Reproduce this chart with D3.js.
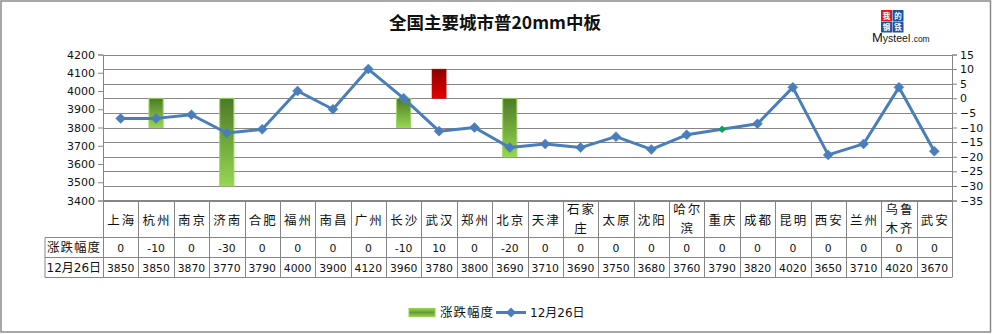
<!DOCTYPE html>
<html>
<head>
<meta charset="utf-8">
<script src="https://cdn.jsdelivr.net/npm/d3@7"></script>
<style>
  html, body { margin: 0; padding: 0; background: #fff; }
  svg { display: block; }
</style>
</head>
<body>
<svg id="chart" width="992" height="334"></svg>
<script>
// City list (x categories)
const cities = ["上海","杭州","南京","济南","合肥","福州","南昌","广州","长沙","武汉","郑州","北京",
                "天津","石家庄","太原","沈阳","哈尔滨","重庆","成都","昆明","西安","兰州","乌鲁木齐","武安"];
// Daily change (right axis, bars)
const changes = [0,-10,0,-30,0,0,0,0,-10,10,0,-20,0,0,0,0,0,0,0,0,0,0,0,0];
// Price on 12月26日 (left axis, line)
const prices = [3850,3850,3870,3770,3790,4000,3900,4120,3960,3780,3800,3690,
                3710,3690,3750,3680,3760,3790,3820,4020,3650,3710,4020,3670];
// Axis ticks
const leftTicks = [3400,3500,3600,3700,3800,3900,4000,4100,4200];
const rightTicks = [-35,-30,-25,-20,-15,-10,-5,0,5,10,15];
const changeName = "涨跌幅度";
const priceName = "12月26日";
const title = "全国主要城市普20mm中板";
// City whose marker is highlighted
const highlightCity = "重庆";

const svg = d3.select("#chart");
const numFont = "'DejaVu Sans', 'Noto Sans CJK SC', sans-serif";
const cjkFont = "'Noto Sans CJK SC', 'DejaVu Sans', sans-serif";
const gridColor = "#868686";

const plot = { left: 103, right: 952, top: 54.5, bottom: 200.5 };
const rows = { cat: 200.5, chg: 237.5, price: 257.5, end: 277.5, headLeft: 45 };

const x = d3.scaleBand().domain(cities).range([plot.left, plot.right]).padding(0);
const yL = d3.scaleLinear().domain([3400, 4200]).range([plot.bottom, plot.top]);
const yR = d3.scaleLinear().domain([-35, 15]).range([plot.bottom, plot.top]);

// Gradients for the change bars
const defs = svg.append("defs");
const gGreen = defs.append("linearGradient").attr("id", "gGreen")
  .attr("x1", 0).attr("y1", 0).attr("x2", 0).attr("y2", 1);
gGreen.append("stop").attr("offset", "0%").attr("stop-color", "#4d7a26");
gGreen.append("stop").attr("offset", "100%").attr("stop-color", "#96d651");
const gRed = defs.append("linearGradient").attr("id", "gRed")
  .attr("x1", 0).attr("y1", 0).attr("x2", 0).attr("y2", 1);
gRed.append("stop").attr("offset", "0%").attr("stop-color", "#8c0000");
gRed.append("stop").attr("offset", "100%").attr("stop-color", "#e60000");
const gLeg = defs.append("linearGradient").attr("id", "gLeg")
  .attr("x1", 0).attr("y1", 0).attr("x2", 0).attr("y2", 1);
gLeg.append("stop").attr("offset", "0%").attr("stop-color", "#92d050");
gLeg.append("stop").attr("offset", "50%").attr("stop-color", "#6a9a38");
gLeg.append("stop").attr("offset", "100%").attr("stop-color", "#92d050");

// Outer frame
svg.append("rect").attr("x", 1).attr("y", 1).attr("width", 989.5).attr("height", 331)
  .attr("fill", "#fff").attr("stroke", "#8a8a8a").attr("stroke-width", 1.5);

// Title
svg.append("text").attr("x", 495).attr("y", 29).attr("text-anchor", "middle")
  .attr("font-family", cjkFont).attr("font-size", 17.5).attr("font-weight", "bold")
  .attr("fill", "#111").text(title);

// Logo: four character tiles above the brand name
const logo = svg.append("g").attr("transform", "translate(881,10)");
const logoCells = [
  { ch: "我", cx: 0, cy: 0, bg: "#e8141b" },
  { ch: "的", cx: 11.5, cy: 0, bg: "#1f4fa0" },
  { ch: "钢", cx: 0, cy: 11.5, bg: "#1f4fa0" },
  { ch: "铁", cx: 11.5, cy: 11.5, bg: "#1f4fa0" }
];
logoCells.forEach(c => {
  logo.append("rect").attr("x", c.cx).attr("y", c.cy).attr("width", 11).attr("height", 11).attr("fill", c.bg);
  logo.append("text").attr("x", c.cx + 5.5).attr("y", c.cy + 8.8).attr("text-anchor", "middle")
    .attr("font-family", cjkFont).attr("font-size", 7.5).attr("font-weight", "bold")
    .attr("fill", "#fff").text(c.ch);
});
const brand = svg.append("text").attr("x", 872).attr("y", 42).attr("font-family", "'Liberation Sans', Arial, sans-serif").attr("fill", "#111");
brand.append("tspan").attr("font-size", 13).text("M");
brand.append("tspan").attr("font-size", 10.5).text("ysteel");
brand.append("tspan").attr("font-size", 8.5).attr("dx", 1).text(".com");

// Horizontal gridlines on the right-axis ticks
svg.append("g").selectAll("line").data(rightTicks).join("line")
  .attr("x1", plot.left).attr("x2", plot.right)
  .attr("y1", d => Math.round(yR(d)) + 0.5).attr("y2", d => Math.round(yR(d)) + 0.5)
  .attr("stroke", gridColor).attr("stroke-width", 1);

// Left axis
const axL = svg.append("g").attr("transform", `translate(${plot.left},0)`)
  .call(d3.axisLeft(yL).tickValues(leftTicks).tickSize(5).tickPadding(3).tickFormat(d3.format("d")));
axL.select(".domain").attr("stroke", gridColor);
axL.selectAll(".tick line").attr("stroke", gridColor);
axL.selectAll("text").attr("font-family", numFont).attr("font-size", 11).attr("fill", "#111");

// Right axis
const axR = svg.append("g").attr("transform", `translate(${plot.right},0)`)
  .call(d3.axisRight(yR).tickValues(rightTicks).tickSize(5).tickPadding(3).tickFormat(d3.format("d")));
axR.select(".domain").attr("stroke", gridColor);
axR.selectAll(".tick line").attr("stroke", gridColor);
axR.selectAll("text").attr("font-family", numFont).attr("font-size", 11).attr("fill", "#111");

// Change bars (from zero on the right axis)
const barW = x.bandwidth() * 0.4;
svg.append("g").selectAll("rect").data(cities.map((c, i) => ({ c, v: changes[i] })).filter(d => d.v !== 0))
  .join("rect")
  .attr("x", d => x(d.c) + (x.bandwidth() - barW) / 2)
  .attr("y", d => Math.min(yR(d.v), yR(0)))
  .attr("width", barW)
  .attr("height", d => Math.abs(yR(d.v) - yR(0)))
  .attr("fill", d => d.v < 0 ? "url(#gGreen)" : "url(#gRed)")
  .attr("stroke", d => d.v < 0 ? "#9bd45e" : "#c00000")
  .attr("stroke-width", d => d.v < 0 ? 1 : 0.5);

// Price line
const cx = c => x(c) + x.bandwidth() / 2;
svg.append("path").datum(cities.map((c, i) => [cx(c), yL(prices[i])]))
  .attr("d", d3.line())
  .attr("fill", "none").attr("stroke", "#4a7ebb").attr("stroke-width", 3)
  .attr("stroke-linejoin", "round");

const diamond = r => `M0,${-r}L${r},0L0,${r}L${-r},0Z`;
svg.append("g").selectAll("path").data(cities.map((c, i) => ({ c, v: prices[i] })))
  .join("path")
  .attr("transform", d => `translate(${cx(d.c)},${yL(d.v)})`)
  .attr("d", d => d.c === highlightCity ? diamond(3.5) : diamond(5))
  .attr("fill", d => d.c === highlightCity ? "#00a651" : "#4a7ebb")
  .attr("stroke", d => d.c === highlightCity ? "#2f8f4a" : "#4a7ebb")
  .attr("stroke-width", 0.5);

// Data table under the plot
const tbl = svg.append("g").attr("stroke", gridColor).attr("stroke-width", 1);
tbl.append("line").attr("x1", plot.left).attr("x2", plot.right).attr("y1", rows.cat).attr("y2", rows.cat);
[rows.chg, rows.price, rows.end].forEach(yy =>
  tbl.append("line").attr("x1", rows.headLeft).attr("x2", plot.right).attr("y1", yy).attr("y2", yy));
tbl.append("line").attr("x1", rows.headLeft).attr("x2", rows.headLeft).attr("y1", rows.chg).attr("y2", rows.end);
const bounds = cities.map(c => x(c)).concat([plot.right]);
tbl.selectAll(".v").data(bounds).join("line")
  .attr("x1", d => Math.round(d) + 0.5).attr("x2", d => Math.round(d) + 0.5)
  .attr("y1", rows.cat).attr("y2", rows.end);

// Category labels (long names wrap after two characters)
const catG = svg.append("g").attr("font-family", cjkFont).attr("font-size", 12.5)
  .attr("fill", "#111").attr("text-anchor", "middle");
cities.forEach(c => {
  const lines = c.length > 2 ? [c.slice(0, 2), c.slice(2)] : [c];
  const t = catG.append("text").attr("letter-spacing", 2)
    .attr("y", lines.length === 1 ? 224.5 : 214.2);
  lines.forEach((ln, k) => {
    t.append("tspan").attr("x", cx(c) + 1).attr("dy", k === 0 ? 0 : 18.4).text(ln);
  });
});

// Table values
const valG = svg.append("g").attr("font-family", numFont).attr("font-size", 10.8)
  .attr("fill", "#111").attr("text-anchor", "middle");
cities.forEach((c, i) => {
  valG.append("text").attr("x", cx(c)).attr("y", 252).text(changes[i]);
  valG.append("text").attr("x", cx(c)).attr("y", 271.5).text(prices[i]);
});

// Row headers
svg.append("text").attr("x", 47).attr("y", 252).attr("font-family", cjkFont)
  .attr("font-size", 12.5).attr("letter-spacing", 1).attr("fill", "#111").text(changeName);
svg.append("text").attr("x", 46.5).attr("y", 271.5).attr("font-family", numFont)
  .attr("font-size", 12).attr("fill", "#111").text(priceName);

// Legend
const leg = svg.append("g");
leg.append("rect").attr("x", 409).attr("y", 308.5).attr("width", 26).attr("height", 8)
  .attr("fill", "url(#gLeg)").attr("stroke", "#92d050").attr("stroke-width", 1);
leg.append("text").attr("x", 440).attr("y", 317).attr("font-family", cjkFont)
  .attr("font-size", 12.5).attr("letter-spacing", 1).attr("fill", "#111").text(changeName);
leg.append("line").attr("x1", 496).attr("x2", 526).attr("y1", 312.5).attr("y2", 312.5)
  .attr("stroke", "#4a7ebb").attr("stroke-width", 3);
leg.append("path").attr("transform", "translate(511,312.5)").attr("d", diamond(5)).attr("fill", "#4a7ebb");
leg.append("text").attr("x", 530).attr("y", 317).attr("font-family", numFont)
  .attr("font-size", 12).attr("fill", "#111").text(priceName);
</script>
</body>
</html>
